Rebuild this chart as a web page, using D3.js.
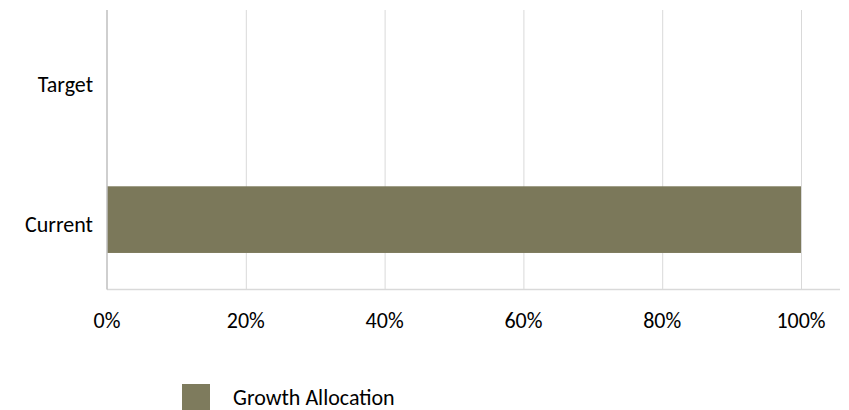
<!DOCTYPE html>
<html>
<head>
<meta charset="utf-8">
<script src="https://cdn.jsdelivr.net/npm/d3@7"></script>
<style>
  html, body { margin: 0; padding: 0; background: #fff; }
  svg text { font-family: Carlito, Calibri, Lato, "Open Sans", sans-serif; fill: #000; }
</style>
</head>
<body>
<svg id="chart" width="849" height="410"></svg>
<script>
// --- Data ---
const categories = ["Target", "Current"];
const seriesName = "Growth Allocation";
const values = [0, 1]; // share of portfolio, Target has no bar
const ticks = [0, 0.2, 0.4, 0.6, 0.8, 1];

const svg = d3.select("#chart");
const fontSize = 22;

const plot = { left: 107, right: 801, top: 10, bottom: 289.5 };

const x = d3.scaleLinear().domain([0, 1]).range([plot.left, plot.right]);
const y = d3.scaleBand().domain(categories).range([plot.top, plot.bottom]);

// gridlines
svg.append("g")
  .selectAll("line")
  .data(ticks.slice(1))
  .join("line")
  .attr("x1", (d) => x(d) + 0.5)
  .attr("x2", (d) => x(d) + 0.5)
  .attr("y1", plot.top)
  .attr("y2", plot.bottom)
  .attr("stroke", "#d9d9d9")
  .attr("stroke-width", 1);

// bars
const barH = y.bandwidth() * 0.477;
svg.append("g")
  .selectAll("rect")
  .data(categories.map((c, i) => ({ c, v: values[i] })))
  .join("rect")
  .attr("x", x(0))
  .attr("y", (d) => y(d.c) + (y.bandwidth() - barH) / 2)
  .attr("width", (d) => x(d.v) - x(0))
  .attr("height", barH)
  .attr("fill", "#7b785a");

// bottom axis line (extends past 100%)
svg.append("line")
  .attr("x1", plot.left)
  .attr("x2", 840)
  .attr("y1", plot.bottom)
  .attr("y2", plot.bottom)
  .attr("stroke", "#d9d9d9")
  .attr("stroke-width", 1.5);

// left axis line
svg.append("line")
  .attr("x1", plot.left)
  .attr("x2", plot.left)
  .attr("y1", plot.top)
  .attr("y2", plot.bottom)
  .attr("stroke", "#bfbfbf")
  .attr("stroke-width", 1.5);

// x tick labels
svg.append("g")
  .selectAll("text")
  .data(ticks)
  .join("text")
  .attr("x", (d) => x(d))
  .attr("y", 327.5)
  .attr("text-anchor", "middle")
  .attr("font-size", fontSize)
  .text(d3.format(".0%"));

// category labels
svg.append("g")
  .selectAll("text")
  .data(categories)
  .join("text")
  .attr("x", 93)
  .attr("y", (d) => y(d) + y.bandwidth() / 2 + 12)
  .attr("text-anchor", "end")
  .attr("font-size", fontSize)
  .text((d) => d);

// legend
const legend = svg.append("g").attr("transform", "translate(182,384)");
legend.append("rect")
  .attr("width", 28)
  .attr("height", 28)
  .attr("fill", "#7e7b5d");
legend.append("text")
  .attr("x", 51)
  .attr("y", 21)
  .attr("font-size", fontSize)
  .text(seriesName);
</script>
</body>
</html>
